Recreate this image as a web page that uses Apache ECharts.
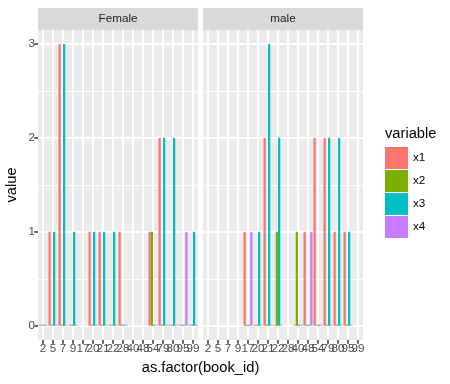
<!DOCTYPE html>
<html>
<head>
<meta charset="utf-8">
<script src="https://cdn.jsdelivr.net/npm/echarts@6/dist/echarts.min.js"></script>
<style>html,body{margin:0;padding:0;background:#fff}#c{width:450px;height:384px}</style>
</head>
<body>
<div id="c"></div>
<script>
// ---- data ----
const categories = ['2','5','7','9','17','20','21','22','28','40','48','54','79','80','95','99'];
const panels = ['Female','male'];
const variables = ['x1','x2','x3','x4'];
const female_x1 = [0,1,3,0,null,1,1,0,1,null,null,1,2,0,0,0];
const female_x2 = [0,0,0,0,null,0,0,0,0,null,null,1,0,0,0,0];
const female_x3 = [0,1,3,1,null,1,1,1,0,null,null,0,2,2,0,1];
const female_x4 = [0,0,0,0,null,0,0,0,0,null,null,0,0,0,1,0];
const male_x1 = [null,null,null,null,1,0,2,0,null,0,1,2,2,1,1,null];
const male_x2 = [null,null,null,null,0,0,0,1,null,1,0,0,0,0,0,null];
const male_x3 = [null,null,null,null,0,1,3,2,null,0,0,0,2,2,1,null];
const male_x4 = [null,null,null,null,1,0,0,0,null,0,1,0,0,0,0,null];
const yTickValues = [0,1,2,3];
const xTitle = 'as.factor(book_id)';
const yTitle = 'value';
const legendTitle = 'variable';

// ---- style ----
const colors = ['#F8766D','#7CAE00','#00BFC4','#C77CFF'];
const FONT = '"Liberation Sans", Arial, Helvetica, sans-serif';
const panelLeft = [38, 203];
const panelW = 160;
const panelTop = 30, panelH = 310;
const dataTop = 44, dataH = 281.7;

const panelData = [
  [female_x1, female_x2, female_x3, female_x4],
  [male_x1, male_x2, male_x3, male_x4]
];

const chart = echarts.init(document.getElementById('c'), null, {renderer: 'canvas'});

const grid = [], xAxis = [], yAxis = [], series = [], graphic = [];
panels.forEach((p, i) => {
  grid.push({left: panelLeft[i], top: panelTop, width: panelW, height: panelH,
    show: true, backgroundColor: '#EBEBEB', borderWidth: 0});
});
panels.forEach((p, i) => {
  grid.push({left: panelLeft[i], top: dataTop, width: panelW, height: dataH, show: false});
});
panels.forEach((p, i) => {
  xAxis.push({type: 'category', gridIndex: i, data: categories, boundaryGap: true,
    axisLine: {show: false},
    axisTick: {show: true, alignWithLabel: true, interval: 0, length: 3.7,
      lineStyle: {color: '#333333', width: 1.5}},
    axisLabel: {show: true, interval: 0, color: '#4D4D4D', fontSize: 11.7, margin: 3, fontFamily: FONT, hideOverlap: false},
    splitLine: {show: true, alignWithLabel: true, interval: 0, lineStyle: {color: '#FFFFFF', width: 1.9}}
  });
  yAxis.push({type: 'value', gridIndex: i, show: false, min: 0, max: 1, splitLine: {show: false}});
});
panels.forEach((p, i) => {
  xAxis.push({type: 'category', gridIndex: 2 + i, data: categories, show: false});
  yAxis.push({type: 'value', gridIndex: 2 + i, min: yTickValues[0], max: yTickValues[yTickValues.length - 1], interval: 1,
    axisLine: {show: false},
    axisTick: {show: i === 0, length: 3.7, lineStyle: {color: '#333333', width: 1.5}},
    axisLabel: {show: i === 0, color: '#4D4D4D', fontSize: 11.7, margin: 3, fontFamily: FONT},
    splitLine: {show: true, lineStyle: {color: '#FFFFFF', width: 1.9}},
    minorTick: {show: false, splitNumber: 2},
    minorSplitLine: {show: true, lineStyle: {color: '#FFFFFF', width: 0.95}}
  });
  variables.forEach((v, k) => {
    series.push({type: 'bar', name: v, xAxisIndex: 2 + i, yAxisIndex: 2 + i,
      data: panelData[i][k], itemStyle: {color: colors[k]},
      barGap: '0%', barCategoryGap: '10%', barMinHeight: 1, animation: false});
  });
  // strip
  graphic.push({type: 'rect', shape: {x: panelLeft[i], y: 8, width: panelW, height: 22},
    style: {fill: '#D9D9D9'}, silent: true});
  graphic.push({type: 'text', x: panelLeft[i] + panelW / 2, y: 19,
    style: {text: p, fill: '#1A1A1A', font: '11.7px ' + FONT, textAlign: 'center', textVerticalAlign: 'middle'}});
});

graphic.push({type: 'text', x: (panelLeft[0] + panelLeft[1] + panelW) / 2, y: 368,
  style: {text: xTitle, fill: '#000000', font: '14.7px ' + FONT, textAlign: 'center', textVerticalAlign: 'middle'}});
graphic.push({type: 'text', x: 12, y: panelTop + panelH / 2, rotation: Math.PI / 2,
  style: {text: yTitle, fill: '#000000', font: '14.7px ' + FONT, textAlign: 'center', textVerticalAlign: 'middle'}});
graphic.push({type: 'text', x: 385, y: 134,
  style: {text: legendTitle, fill: '#000000', font: '14.7px ' + FONT, textAlign: 'left', textVerticalAlign: 'middle'}});

chart.setOption({
  animation: false,
  backgroundColor: '#FFFFFF',
  textStyle: {fontFamily: FONT},
  grid, xAxis, yAxis, series, graphic,
  legend: {data: variables, orient: 'vertical', left: 385, top: 147, padding: 0,
    itemWidth: 23, itemHeight: 22, itemGap: 1, icon: 'rect', selectedMode: false,
    textStyle: {fontSize: 11.7, color: '#000000', fontFamily: FONT}}
});
</script>
</body>
</html>
